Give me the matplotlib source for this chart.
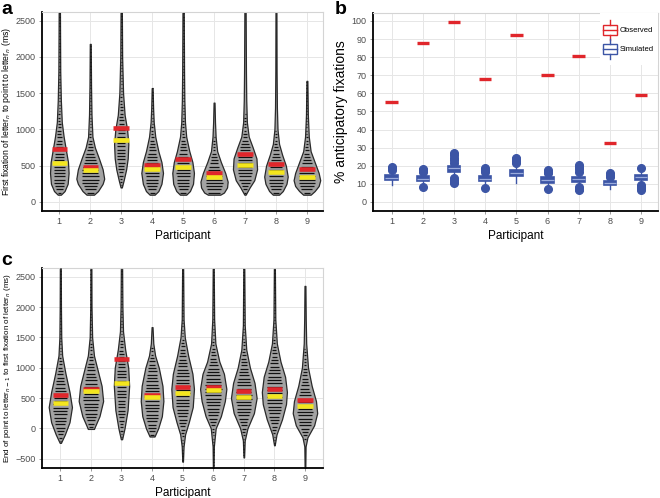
import numpy as np
import matplotlib
matplotlib.use("Agg")
import matplotlib.pyplot as plt
from matplotlib.collections import LineCollection
from matplotlib.patches import Rectangle

plt.rcParams['font.family'] = ['Liberation Sans', 'DejaVu Sans']

participants = [1, 2, 3, 4, 5, 6, 7, 8, 9]

# panel a: violin outlines, (y, half width)
a_y = [
    [100, 150, 250, 400, 550, 700, 900, 1100, 1400, 1800, 2650],
    [100, 150, 250, 320, 450, 600, 750, 900, 1200, 1600, 2180],
    [200, 300, 450, 600, 800, 1000, 1200, 1500, 2000, 2650],
    [100, 150, 250, 400, 550, 700, 900, 1100, 1300, 1570],
    [100, 150, 250, 400, 550, 700, 900, 1100, 1400, 1800, 2650],
    [100, 130, 200, 280, 400, 550, 700, 900, 1100, 1370],
    [100, 200, 300, 450, 600, 750, 900, 1100, 1400, 1800, 2650],
    [100, 150, 250, 350, 500, 650, 800, 1000, 1300, 1800, 2650],
    [100, 150, 220, 300, 400, 550, 700, 900, 1200, 1670],
]
a_w = [
    [0.05, 0.17, 0.27, 0.30, 0.28, 0.22, 0.14, 0.08, 0.05, 0.03, 0.02],
    [0.12, 0.25, 0.40, 0.45, 0.40, 0.28, 0.15, 0.07, 0.04, 0.025, 0.015],
    [0.02, 0.08, 0.16, 0.21, 0.23, 0.19, 0.11, 0.06, 0.03, 0.02],
    [0.08, 0.20, 0.30, 0.35, 0.30, 0.20, 0.10, 0.05, 0.03, 0.015],
    [0.10, 0.22, 0.32, 0.35, 0.30, 0.20, 0.10, 0.06, 0.04, 0.03, 0.02],
    [0.20, 0.32, 0.42, 0.44, 0.36, 0.22, 0.10, 0.05, 0.03, 0.015],
    [0.02, 0.15, 0.30, 0.39, 0.37, 0.25, 0.12, 0.06, 0.04, 0.03, 0.02],
    [0.10, 0.22, 0.34, 0.38, 0.32, 0.20, 0.10, 0.05, 0.03, 0.02, 0.015],
    [0.12, 0.25, 0.38, 0.43, 0.38, 0.25, 0.12, 0.06, 0.03, 0.015],
]
a_mean = [725, 486, 1023, 509, 587, 394, 660, 518, 459]
a_median = [541, 440, 853, 450, 486, 349, 514, 408, 344]

# panel c
c_y = [
    [-240, -100, 100, 350, 600, 900, 1200, 1500, 2000, 2700],
    [-10, 50, 200, 450, 700, 1000, 1200, 1500, 2000, 2700],
    [-180, 0, 300, 700, 1000, 1300, 1600, 2000, 2700],
    [-135, 0, 200, 450, 700, 1000, 1200, 1400, 1670],
    [-550, -300, -100, 100, 350, 650, 900, 1200, 1500, 1800, 2700],
    [-700, -300, 0, 200, 450, 650, 900, 1100, 1400, 1800, 2700],
    [-480, -200, 0, 250, 500, 750, 1000, 1300, 1700, 2700],
    [-280, -100, 150, 400, 600, 850, 1100, 1400, 1800, 2700],
    [-700, -300, -150, 50, 250, 450, 700, 1000, 1400, 1800, 2350],
]
c_w = [
    [0.02, 0.15, 0.30, 0.38, 0.30, 0.17, 0.06, 0.03, 0.02, 0.015],
    [0.10, 0.15, 0.28, 0.40, 0.35, 0.20, 0.10, 0.04, 0.02, 0.015],
    [0.02, 0.10, 0.20, 0.25, 0.22, 0.12, 0.05, 0.03, 0.02],
    [0.08, 0.20, 0.32, 0.37, 0.34, 0.22, 0.10, 0.04, 0.015],
    [0.01, 0.03, 0.08, 0.20, 0.33, 0.37, 0.32, 0.18, 0.07, 0.03, 0.015],
    [0.01, 0.02, 0.08, 0.25, 0.38, 0.43, 0.35, 0.20, 0.07, 0.03, 0.015],
    [0.01, 0.03, 0.12, 0.33, 0.42, 0.35, 0.20, 0.08, 0.03, 0.015],
    [0.01, 0.07, 0.25, 0.38, 0.41, 0.35, 0.20, 0.08, 0.03, 0.015],
    [0.01, 0.02, 0.08, 0.30, 0.40, 0.36, 0.22, 0.10, 0.04, 0.025, 0.015],
]
c_mean = [549, 654, 1143, 544, 681, 681, 615, 648, 462]
c_median = [418, 610, 742, 511, 588, 632, 511, 538, 368]

# panel b
observed = [55.3, 87.7, 99.3, 68.0, 92.1, 69.9, 80.5, 32.4, 59.2]
sim_q1 = [12.1, 11.6, 16.7, 11.6, 14.3, 10.7, 11.0, 9.2, 12.1]
sim_med = [13.5, 12.9, 18.5, 12.8, 16.1, 12.1, 12.5, 10.5, 13.8]
sim_q3 = [14.9, 14.3, 20.0, 14.2, 17.6, 13.6, 14.0, 11.8, 15.1]
sim_lo = [9.4, 9.5, 14.0, 9.5, 10.7, 8.5, 8.8, 7.0, 10.0]
sim_hi = [16.8, 15.8, 22.0, 15.7, 20.0, 15.0, 16.0, 13.5, 17.5]
sim_fliers = [
    [17.6, 18.5, 19.5],
    [8.1, 16.7, 17.6, 18.4],
    [10.3, 11.2, 12.0, 13.0, 21.5, 23.0, 24.5, 25.8, 26.8],
    [7.5, 16.7, 17.8, 18.6],
    [21.5, 22.5, 23.5, 24.5],
    [7.0, 15.8, 16.8, 17.6],
    [6.5, 7.4, 8.3, 16.8, 18.0, 19.2, 20.2],
    [14.0, 15.0, 15.8],
    [6.8, 7.6, 8.5, 9.3, 18.9],
]

RED = '#e0262b'
YELLOW = '#f4e61e'
BLUE = '#3c55a5'
GRID = '#e6e6e6'
TICK = '#4d4d4d'


def style_axes(ax):
    ax.set_facecolor('white')
    ax.grid(True, color=GRID, lw=0.7, zorder=0)
    ax.set_axisbelow(True)
    for s in ['top', 'right']:
        ax.spines[s].set_color('#d4d4d4')
        ax.spines[s].set_linewidth(0.8)
    for s in ['left', 'bottom']:
        ax.spines[s].set_color('black')
        ax.spines[s].set_linewidth(1.3)
    ax.tick_params(colors='#8c8c8c', labelcolor=TICK, labelsize=6.5,
                   length=2.5, width=0.6, pad=2)
    ax.set_xticks(participants)
    ax.set_xlabel('Participant', fontsize=8.5, labelpad=3)


def draw_violins(ax, ys_all, ws_all, means, medians, step):
    for x, ys, ws, mn, md in zip(participants, ys_all, ws_all, means, medians):
        yy = np.linspace(ys[0], ys[-1], 300)
        ww = np.interp(yy, ys, ws)
        ax.fill_betweenx(yy, x - ww, x + ww, facecolor='#a3a3a3',
                         edgecolor='#2a2a2a', lw=0.9, zorder=2)
        rows = np.arange(ys[0] + step * 0.6, ys[-1], step)
        segs = []
        for r in rows:
            half = max(0.68 * np.interp(r, ys, ws) - 0.02, 0.014)
            segs.append([(x - half, r), (x + half, r)])
        ax.add_collection(LineCollection(segs, colors='#111111', linewidths=0.9,
                                         zorder=3))
        ax.hlines(mn, x - 0.25, x + 0.25, color=RED, lw=3.3, zorder=4)
        ax.hlines(md, x - 0.25, x + 0.25, color=YELLOW, lw=3.3, zorder=4)


fig = plt.figure(figsize=(6.6, 4.98), dpi=100)

# a
ax_a = fig.add_axes([0.0636, 0.5763, 0.4258, 0.3996])
style_axes(ax_a)
draw_violins(ax_a, a_y, a_w, a_mean, a_median, 45)
ax_a.set_xlim(0.44, 9.52)
ax_a.set_ylim(-125, 2620)
ax_a.set_yticks([0, 500, 1000, 1500, 2000, 2500])
ax_a.set_ylabel('First fixation of letter$_n$ to point to letter$_n$ (ms)',
                fontsize=6.2, labelpad=2)

# c
ax_c = fig.add_axes([0.0636, 0.0602, 0.4258, 0.401])
style_axes(ax_c)
draw_violins(ax_c, c_y, c_w, c_mean, c_median, 55)
ax_c.set_xlim(0.40, 9.59)
ax_c.set_ylim(-655, 2640)
ax_c.set_yticks([-500, 0, 500, 1000, 1500, 2000, 2500])
ax_c.set_ylabel('End of point to letter$_{n-1}$ to first fixation of letter$_n$ (ms)',
                fontsize=5.8, labelpad=2)

# b
ax_b = fig.add_axes([0.5652, 0.5763, 0.4318, 0.3976])
style_axes(ax_b)
stats = []
for i in range(len(participants)):
    stats.append(dict(med=sim_med[i], q1=sim_q1[i], q3=sim_q3[i],
                      whislo=sim_lo[i], whishi=sim_hi[i], fliers=sim_fliers[i]))
ax_b.bxp(stats, positions=participants, widths=0.4, patch_artist=True,
         showcaps=False,
         boxprops=dict(facecolor=BLUE, edgecolor=BLUE, lw=1.2),
         medianprops=dict(color='#9aabdc', lw=0.9),
         whiskerprops=dict(color=BLUE, lw=1.0),
         flierprops=dict(marker='o', markersize=5.5, markerfacecolor=BLUE,
                         markeredgecolor=BLUE),
         zorder=3)
ax_b.hlines(observed, np.array(participants) - 0.2, np.array(participants) + 0.2,
            color=RED, lw=2.4, zorder=3)
ax_b.set_xticks(participants)
ax_b.set_xticklabels([str(p) for p in participants])
ax_b.set_xlim(0.40, 9.545)
ax_b.set_ylim(-5, 104.4)
ax_b.set_yticks(range(0, 101, 10))
ax_b.set_ylabel('% anticipatory fixations', fontsize=10, labelpad=3)

# legend drawn by hand
tr = ax_b.transAxes
ax_b.add_patch(Rectangle((0.795, 0.735), 0.21, 0.265, transform=tr,
                         facecolor='white', edgecolor='none', zorder=5))
for yc, col, lab in [(0.913, RED, 'Observed'), (0.817, BLUE, 'Simulated')]:
    ax_b.add_patch(Rectangle((0.807, yc - 0.025), 0.05, 0.05, transform=tr,
                             facecolor='white', edgecolor=col, lw=1.0, zorder=6))
    ax_b.plot([0.807, 0.857], [yc, yc], transform=tr, color=col, lw=1.0, zorder=7)
    ax_b.plot([0.832, 0.832], [yc + 0.025, yc + 0.05], transform=tr, color=col, lw=1.0, zorder=7)
    ax_b.plot([0.832, 0.832], [yc - 0.025, yc - 0.05], transform=tr, color=col, lw=1.0, zorder=7)
    ax_b.text(0.865, yc, lab, transform=tr, fontsize=5.5, va='center', ha='left', zorder=7)

fig.text(0.002, 0.998, 'a', fontsize=14, fontweight='bold', va='top', ha='left')
fig.text(0.507, 0.998, 'b', fontsize=14, fontweight='bold', va='top', ha='left')
fig.text(0.002, 0.494, 'c', fontsize=14, fontweight='bold', va='top', ha='left')

fig.savefig('out.png', dpi=100)
